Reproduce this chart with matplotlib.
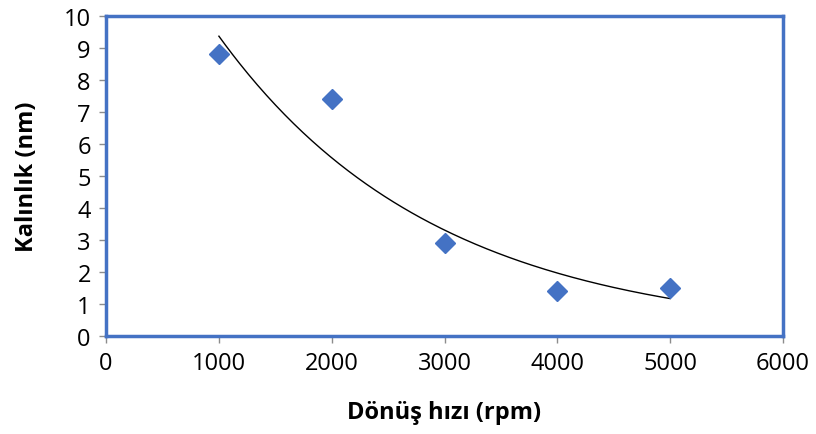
import numpy as np
import matplotlib
matplotlib.use('Agg')
import matplotlib.pyplot as plt

# hız (rpm) ve kalınlık (nm)
speed = [1000, 2000, 3000, 4000, 5000]
thickness = [8.8, 7.4, 2.9, 1.4, 1.5]

x_ticks = [0, 1000, 2000, 3000, 4000, 5000, 6000]
y_ticks = list(range(0, 11))

plt.rcParams['font.family'] = ['Open Sans', 'DejaVu Sans']

fig = plt.figure(figsize=(8.16, 4.35), dpi=100)
ax = fig.add_axes([0.130, 0.2253, 0.8296, 0.7357])

# üstel eğilim çizgisi
b, a = np.polyfit(speed, np.log(thickness), 1)
xs = np.linspace(speed[0], speed[-1], 200)
ax.plot(xs, np.exp(a) * np.exp(b * xs), color='black', lw=1.0, zorder=2)

ax.plot(speed, thickness, linestyle='none', marker='D', markersize=10,
        color='#4472C4', zorder=3)

ax.set_xlim(0, 6000)
ax.set_ylim(0, 10)
ax.set_xticks(x_ticks)
ax.set_yticks(y_ticks)
ax.tick_params(labelsize=17, length=5, width=1, color='#8c8c8c', pad=6)
for s in ax.spines.values():
    s.set_color('#4472C4')
    s.set_linewidth(2.5)

ax.set_xlabel('Dönüş hızı (rpm)', fontsize=17, fontweight='bold', labelpad=18)
ax.set_ylabel('Kalınlık (nm)', fontsize=17, fontweight='bold', labelpad=18)

fig.savefig('out.png', dpi=100)
